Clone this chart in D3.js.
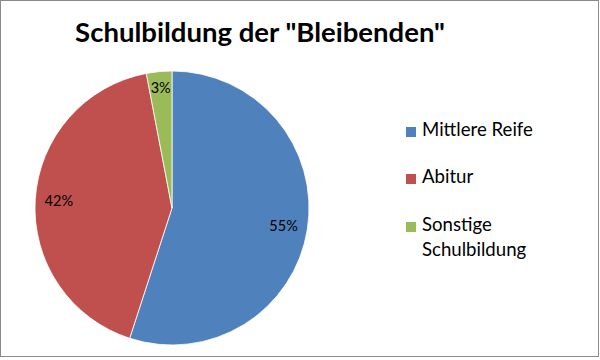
<!DOCTYPE html>
<html><head><meta charset="utf-8">
<script src="https://cdn.jsdelivr.net/npm/d3@7"></script>
<style>html,body{margin:0;padding:0;background:#fff;}</style>
</head><body>
<svg id="c" width="600" height="360"></svg>
<script>
const title = 'Schulbildung der "Bleibenden"';
const categories = ["Mittlere Reife", "Abitur", "Sonstige Schulbildung"];
const legendLines = [["Mittlere Reife"], ["Abitur"], ["Sonstige", "Schulbildung"]];
const values = [55, 42, 3];
const colors = ["#4F81BD", "#C0504D", "#9BBB59"];

const svg = d3.select("#c");
const font = "Lato, 'Open Sans', sans-serif";
svg.append("rect").attr("x",0.5).attr("y",0.5).attr("width",598).attr("height",356)
  .attr("fill","#fff").attr("stroke","#8a8a8a").attr("stroke-width",1);

const t = svg.append("text").attr("x",260).attr("y",42).attr("text-anchor","middle")
  .attr("font-family",font).attr("font-weight","bold").attr("font-size",26).attr("fill","#000").text(title);
const tw = t.node().getComputedTextLength();
t.attr("font-size", 26*370/tw);

const cx = 172, cy = 208, r = 137;
const g = svg.append("g").attr("transform",`translate(${cx},${cy})`);
const pie = d3.pie().sort(null).value(d=>d)(values);
const arc = d3.arc().innerRadius(0).outerRadius(r);
g.selectAll("path").data(pie).join("path").attr("d",arc)
  .attr("fill",(d,i)=>colors[i]).attr("stroke","#fff").attr("stroke-width",0.8);

const total = d3.sum(values);
const fmt = d => Math.round(d.value/total*100)+"%";
const lab = g.selectAll("text.l").data(pie).join("text").attr("class","l")
  .attr("font-family",font).attr("font-size",14.5).attr("fill","#000")
  .attr("text-anchor","middle").attr("dominant-baseline","central").text(fmt);
lab.each(function(d){
  const bb = this.getBBox();
  const a = (d.startAngle+d.endAngle)/2;
  const ux = Math.sin(a), uy = -Math.cos(a);
  const ext = Math.abs(ux)*bb.width/2 + Math.abs(uy)*bb.height/2*0.75;
  const rr = r - 9 - ext;
  d3.select(this).attr("x", ux*rr).attr("y", uy*rr);
});

const lg = svg.append("g");
const rowY = [127, 174, 222];
const probe = lg.append("text").attr("font-family",font).attr("font-size",16).text(legendLines[0][0]);
const lfs = 16*111/probe.node().getComputedTextLength();
probe.remove();
categories.forEach((c,i)=>{
  lg.append("rect").attr("x",406).attr("y",rowY[i]).attr("width",10).attr("height",10).attr("fill",colors[i]);
  legendLines[i].forEach((ln,j)=>{
    lg.append("text").attr("x",422).attr("y",rowY[i]+9+j*25).attr("font-family",font)
      .attr("font-size",lfs).attr("fill","#000").text(ln);
  });
});
</script>
</body></html>
